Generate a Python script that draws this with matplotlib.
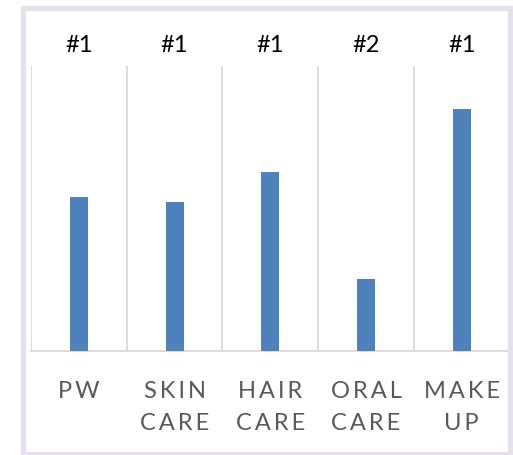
import matplotlib
matplotlib.use("Agg")
import matplotlib.pyplot as plt
import matplotlib.transforms as mtransforms
from matplotlib.patches import Rectangle

categories = ["PW", "SKIN CARE", "HAIR CARE", "ORAL CARE", "MAKE UP"]
tick_labels = ["P\u2009W", "S\u2009K\u2009I\u2009N\nC\u2009A\u2009R\u2009E", "H\u2009A\u2009I\u2009R\nC\u2009A\u2009R\u2009E",
               "O\u2009R\u2009A\u2009L\nC\u2009A\u2009R\u2009E", "M\u2009A\u2009K\u2009E\nU\u2009P"]
values = [54.0, 52.3, 62.9, 25.3, 85.0]
ranks = ["#1", "#1", "#1", "#2", "#1"]

W, H = 513, 455
fig = plt.figure(figsize=(W / 100, H / 100), dpi=100)
fig.patch.set_facecolor("white")

# outer frame
fig.patches.append(Rectangle((22.5 / W, 1.5 / H), 487 / W, 446.0 / H,
                             transform=fig.transFigure, fill=False,
                             edgecolor="#e6e0ee", linewidth=3.8, zorder=0))

ax = fig.add_axes([31 / W, (H - 350.7) / H, (509.5 - 31) / W, (350.7 - 66) / H])
x = list(range(len(categories)))
ax.bar(x, values, width=0.188, color="#4f81bd", zorder=3)
ax.set_xlim(-0.5, 4.5)
ax.set_ylim(0, 100)

for b in [-0.5, 0.5, 1.5, 2.5, 3.5]:
    ax.axvline(b, color="#d9d9d9", linewidth=1.3, zorder=1)

for s in ["top", "right", "left"]:
    ax.spines[s].set_visible(False)
ax.spines["bottom"].set_color("#d9d9d9")
ax.spines["bottom"].set_linewidth(1.3)
ax.set_yticks([])
ax.set_xticks(x)
ax.set_xticklabels(tick_labels, fontsize=17, color="#595959", family=["Lato", "DejaVu Sans"],
                   linespacing=1.65, va="top")
ax.tick_params(axis="x", length=0, pad=22)

trans = mtransforms.blended_transform_factory(ax.transData, fig.transFigure)
for xi, r in zip(x, ranks):
    ax.text(xi, 1 - 45 / H, r, transform=trans, ha="center", va="center",
            fontsize=17, color="black", family=["Lato", "DejaVu Sans"])

fig.savefig("out.png", dpi=100)
